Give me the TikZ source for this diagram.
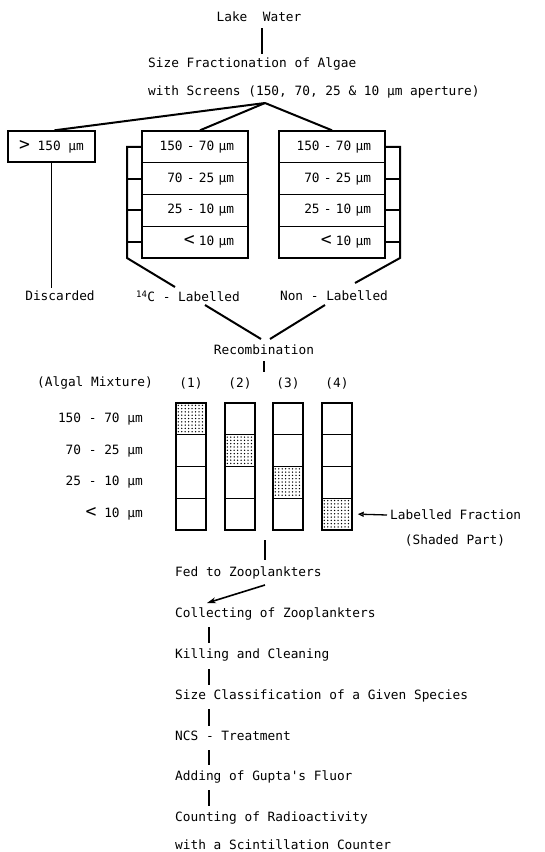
\documentclass[tikz,border=0pt]{standalone}
\usepackage{fontspec}
\newfontfamily\dmono{DejaVu Sans Mono}
\usetikzlibrary{arrows.meta,calc}
\newcommand\dotcell[1]{%
  \foreach \dx in {0,...,7}{\foreach \dy in {0,...,8}{%
    \fill ($(#1.north west)+(3+\dx*3.45,3+\dy*3.3)$) circle[radius=0.75pt];}}}
\begin{document}
\begin{tikzpicture}[x=1pt,y=-1pt,
  font=\dmono\fontsize{12.8}{14}\selectfont,
  conn/.style={line width=2pt},
  box/.style={draw,line width=1.4pt,minimum width=87pt,minimum height=31pt,inner sep=0pt},
  cell/.style={draw,line width=1.4pt,minimum width=106pt,minimum height=31.75pt,text width=78pt,align=right,inner sep=0pt},
  cellb/.style={draw,line width=1.4pt,minimum width=30pt,minimum height=31.75pt,inner sep=0pt},
  lt/.style={anchor=west,inner sep=0pt}]
\useasboundingbox (0,0) rectangle (544,852);
% top
\node (lake) at (259,17) {Lake\ \ Water};
\node[lt] (size1) at (148,64) {Size Fractionation of Algae};
\node[lt] (size2) at (148,92) {with Screens (150, 70, 25 \& 10 µm aperture)};
\coordinate (lw1) at (262,28);
\coordinate (lw2) at (262,54);
\draw[conn] (lw1) -- (lw2);
\coordinate (apex) at (265,103);
% boxes
\node[box] (gt) at (51.5,146.5) {{\fontsize{18}{18}\selectfont >}\ 150 µm};
\foreach \i/\t [evaluate=\i as \yy using 131+31.75*(\i-0.5)] in
  {1/{150 - 70 µm},2/{70 - 25 µm},3/{25 - 10 µm},4/{{\fontsize{18}{18}\selectfont <}\ 10 µm}}{
  \node[cell] (m\i) at (195,\yy) {\t};
  \node[cell] (n\i) at (332,\yy) {\t};
}
\draw[conn] (apex) -- ($(gt.north)+(3,0)$);
\draw[conn] (apex) -- ($(m1.north)+(5,0)$);
\draw[conn] (apex) -- (n1.north);
% labels under
\node (disc) at (60,296) {Discarded};
\node (lab14) at (188,296) {\textsuperscript{14}C - Labelled};
\node (nonlab) at (334,296) {Non - Labelled};
\draw[line width=1.4pt] (gt.south) -- (gt.south |- disc.north);
% brackets
\coordinate (bl) at (127,258);
\coordinate (br) at (400,258);
\coordinate (c14a) at (175,287);
\coordinate (cnla) at (355,283);
\draw[conn] (m1.west) -- (m1.west -| bl) -- (bl) -- (c14a);
\draw[conn] (n1.east) -- (n1.east -| br) -- (br) -- (cnla);
\foreach \i in {2,3,4}{
  \draw[conn] (m\i.west) -- (m\i.west -| bl);
  \draw[conn] (n\i.east) -- (n\i.east -| br);
}
% recombination
\node (recomb) at (264,350) {Recombination};
\coordinate (r1a) at (205,305);
\coordinate (r1b) at (261,339);
\coordinate (r2a) at (325,305);
\coordinate (r2b) at (270,339);
\draw[conn] (r1a) -- (r1b);
\draw[conn] (r2a) -- (r2b);
\coordinate (rc1) at (264,361);
\coordinate (rc2) at (264,372);
\draw[conn] (rc1) -- (rc2);
% algal mixture
\node (am) at (95,383) {(Algal Mixture)};
\foreach \c/\x in {1/191,2/240,3/288,4/337}{
  \node (h\c) at (\x,383) {(\c)};
  \foreach \r in {1,2,3,4}{
    \node[cellb] (k\c\r) at (\x,{403+31.75*(\r-0.5)}) {};
  }
}
\dotcell{k11}\dotcell{k22}\dotcell{k33}\dotcell{k44}
\foreach \r/\t in {1/{150 - 70 µm},2/{70 - 25 µm},3/{25 - 10 µm},4/{{\fontsize{18}{18}\selectfont <}\ 10 µm}}{
  \node[anchor=east,inner sep=0pt] (rl\r) at (143,{403+31.75*(\r-0.5)}) {\t};
}
\node[lt] (labfr) at (390,515) {Labelled Fraction};
\node (shp) at (455,540) {(Shaded Part)};
\draw[line width=1.3pt,-{Triangle[open,length=6pt,width=5pt]}] ($(labfr.west)+(-3,0)$) -- ($(k44.east)+(5,0)$);
% feeding
\coordinate (f1) at (265,540);
\coordinate (f2) at (265,560);
\draw[conn] (f1) -- (f2);
\node[lt] (fed) at (175,573) {Fed to Zooplankters};
\coordinate (a1) at (265,585);
\coordinate (a2) at (207,603);
\draw[line width=1.6pt,-{Stealth[length=9pt,width=6pt]}] (a1) -- (a2);
\node[lt] (s1) at (175,614) {Collecting of Zooplankters};
\node[lt] (s2) at (175,655) {Killing and Cleaning};
\node[lt] (s3) at (175,696) {Size Classification of a Given Species};
\node[lt] (s4) at (175,736) {NCS - Treatment};
\node[lt] (s5) at (175,777) {Adding of Gupta's Fluor};
\node[lt] (s6) at (175,818) {Counting of Radioactivity};
\node[lt] (s7) at (175,845) {with a Scintillation Counter};
\foreach \a/\b in {627/643,669/685,709/726,750/765,790/806}{
  \draw[conn] (209,\a) coordinate (v\a) -- (209,\b) coordinate (w\a);
}
\end{tikzpicture}
\end{document}
